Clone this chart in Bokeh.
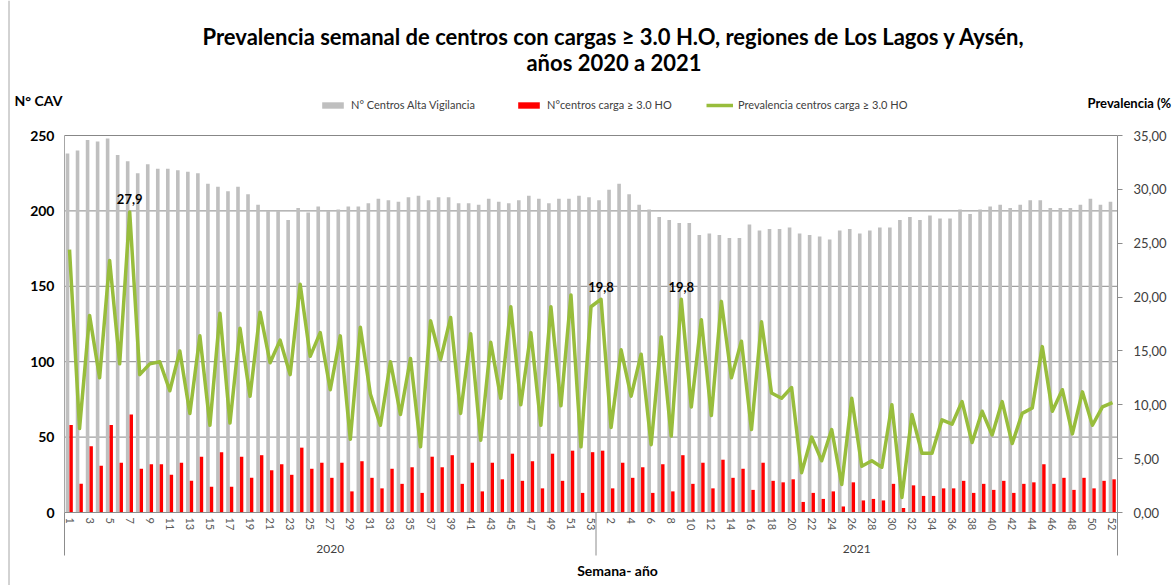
from bokeh.plotting import figure
from bokeh.models import (ColumnDataSource, LinearAxis, Range1d, FixedTicker, Label,
                          Legend, LegendItem)
from bokeh.transform import dodge
from bokeh.embed import file_html
from bokeh.resources import INLINE

# ---------------- data ----------------
years = ["2020", "2021"]
weeks_2020 = ["1", "2", "3", "4", "5", "6", "7", "8", "9", "10", "11", "12", "13", "14", "15", "16", "17", "18",
              "19", "20", "21", "22", "23", "24", "25", "26", "27", "28", "29", "30", "31", "32", "33", "34", "35",
              "36", "37", "38", "39", "40", "41", "42", "43", "44", "45", "46", "47", "48", "49", "50", "51", "52", "53"]
weeks_2021 = ["1", "2", "3", "4", "5", "6", "7", "8", "9", "10", "11", "12", "13", "14", "15", "16", "17", "18",
              "19", "20", "21", "22", "23", "24", "25", "26", "27", "28", "29", "30", "31", "32", "33", "34", "35",
              "36", "37", "38", "39", "40", "41", "42", "43", "44", "45", "46", "47", "48", "49", "50", "51", "52"]

centros_alta_vigilancia_2020 = [238, 240, 247, 246, 248, 237, 233, 225, 231, 228,
                                228, 227, 226, 225, 218, 216, 213, 216, 211, 204,
                                200, 200, 194, 202, 199, 203, 200, 201, 203, 203,
                                205, 208, 207, 206, 209, 210, 207, 209, 209, 205,
                                205, 204, 208, 206, 205, 207, 210, 208, 205, 208,
                                208, 210, 209]
centros_alta_vigilancia_2021 = [207, 214, 218, 211, 204, 201, 196, 194, 192, 192,
                                184, 185, 184, 182, 182, 191, 187, 188, 188, 189,
                                185, 184, 183, 181, 187, 188, 185, 187, 189, 189,
                                194, 196, 194, 197, 195, 195, 201, 198, 201, 203,
                                204, 202, 204, 207, 207, 202, 202, 202, 204, 208,
                                204, 206]

centros_carga_2020 = [58, 19, 44, 31, 58, 33, 65, 29, 32, 32,
                      25, 33, 21, 37, 17, 40, 17, 37, 23, 38,
                      28, 32, 25, 43, 29, 33, 23, 33, 14, 34,
                      23, 16, 29, 19, 30, 13, 37, 30, 38, 19,
                      33, 14, 33, 22, 39, 21, 34, 16, 39, 21,
                      41, 13, 40]
centros_carga_2021 = [41, 16, 33, 23, 30, 13, 32, 14, 38, 19,
                      33, 16, 35, 23, 29, 15, 33, 21, 20, 22,
                      7, 13, 9, 14, 4, 20, 8, 9, 8, 19,
                      3, 18, 11, 11, 16, 16, 21, 13, 19, 15,
                      21, 13, 19, 20, 32, 19, 23, 15, 23, 16,
                      21, 22]

prevalencia_2020 = [24.4, 7.8, 18.3, 12.5, 23.4, 13.8, 27.9, 12.8, 13.8, 14.0,
                    11.3, 15.0, 9.2, 16.4, 8.1, 18.5, 8.3, 17.1, 10.8, 18.6,
                    13.9, 16.0, 12.8, 21.2, 14.5, 16.7, 11.4, 16.4, 6.8, 17.2,
                    11.0, 8.1, 14.0, 9.1, 14.3, 6.1, 17.8, 14.2, 18.1, 9.2,
                    16.6, 6.7, 15.8, 10.6, 19.1, 10.0, 16.7, 8.1, 19.1, 9.9,
                    20.2, 6.1, 19.1]
prevalencia_2021 = [19.8, 7.9, 15.1, 10.8, 14.7, 6.3, 16.3, 7.1, 19.8, 9.8,
                    17.9, 9.0, 19.6, 12.5, 15.9, 7.7, 17.7, 11.1, 10.6, 11.6,
                    3.7, 7.0, 4.8, 7.7, 2.6, 10.6, 4.3, 4.8, 4.2, 10.0,
                    1.4, 9.1, 5.5, 5.5, 8.6, 8.2, 10.3, 6.5, 9.4, 7.2,
                    10.3, 6.4, 9.2, 9.7, 15.4, 9.4, 11.4, 7.3, 11.2, 8.1,
                    9.8, 10.2]

left_ticks = [0, 50, 100, 150, 200, 250]
right_ticks = [0, 5, 10, 15, 20, 25, 30, 35]
right_tick_labels = ["0,00", "5,00", "10,00", "15,00", "20,00", "25,00", "30,00", "35,00"]

# highlighted labels: (year, week, text)
point_labels = [("2020", "7", "27,9"), ("2021", "1", "19,8"), ("2021", "9", "19,8")]

# ---------------- build ----------------
week_labels = weeks_2020 + weeks_2021
n = len(week_labels)
n20 = len(weeks_2020)
xs = list(range(1, n + 1))
cav = centros_alta_vigilancia_2020 + centros_alta_vigilancia_2021
carga = centros_carga_2020 + centros_carga_2021
prev = prevalencia_2020 + prevalencia_2021

src = ColumnDataSource(dict(x=xs, cav=cav, carga=carga, prev=prev))

# layout: the frame covers the whole canvas; the plot area is placed inside it
W, H = 1174, 585
PX_L, PX_R, PX_T, PX_B = 64, 1117, 135, 512          # plot area in canvas pixels
LEFT_MAX, RIGHT_MAX = 250, 35
xpp = (PX_R - PX_L) / n                              # pixels per category
ypp = (PX_B - PX_T) / LEFT_MAX                       # pixels per left unit
x0 = 0.5 - PX_L / xpp
x1 = 0.5 + (W - PX_L) / xpp
y1 = PX_B / ypp
y0 = -(H - PX_B) / ypp
ratio = RIGHT_MAX / LEFT_MAX


def dx(px):   # canvas x pixel -> data x
    return 0.5 + (px - PX_L) / xpp


def dy(py):   # canvas y pixel -> left data y
    return (PX_B - py) / ypp


FONT = "Lato"
p = figure(width=W, height=H, x_range=Range1d(x0, x1), y_range=Range1d(y0, y1),
           output_backend="svg", toolbar_location=None,
           min_border=0, min_border_left=0, min_border_right=0, min_border_top=0, min_border_bottom=0)
p.title.visible = False
p.extra_y_ranges = {"prev": Range1d(y0 * ratio, y1 * ratio)}
p.outline_line_color = None
p.background_fill_color = "white"
p.border_fill_color = "white"
p.xgrid.visible = False
p.ygrid.visible = False

# outer chart border line (left)
p.segment(x0=[dx(8.5)], y0=[y0], x1=[dx(8.5)], y1=[y1], line_color="#A6A6A6", line_width=1)

# horizontal gridlines
p.segment(x0=[0.5] * len(left_ticks), y0=left_ticks, x1=[n + 0.5] * len(left_ticks), y1=left_ticks,
          line_color="#878787", line_width=1)

gray_r = p.vbar(x=dodge("x", -0.2, range=p.x_range), top="cav", width=0.36, source=src,
                fill_color="#BFBFBF", line_color=None)
red_r = p.vbar(x=dodge("x", 0.16, range=p.x_range), top="carga", width=0.34, source=src,
               fill_color="#FF0000", line_color=None)
green_r = p.line(x="x", y="prev", source=src, y_range_name="prev",
                 line_color="#98BD3C", line_width=3.5, line_join="round")

# year separators below the axis
sep_x = [0.5, n20 + 0.5, n + 0.5]
p.segment(x0=sep_x, y0=[0] * 3, x1=sep_x, y1=[dy(PX_B + 43)] * 3, line_color="#8C8C8C", line_width=1)

# left axis
la = p.yaxis[0]
la.fixed_location = 0.5
la.bounds = (0, LEFT_MAX)
la.ticker = FixedTicker(ticks=left_ticks)
la.major_tick_out = 0
la.major_tick_in = 0
la.minor_tick_out = 0
la.minor_tick_in = 0
la.axis_line_color = "#A6A6A6"
la.major_label_text_font = FONT
la.major_label_text_font_style = "bold"
la.major_label_text_font_size = "14px"
la.major_label_text_color = "#000000"
la.major_label_standoff = 10

# right axis
ra = LinearAxis(y_range_name="prev", ticker=FixedTicker(ticks=right_ticks))
ra.fixed_location = n + 0.5
ra.bounds = (0, RIGHT_MAX)
ra.major_label_overrides = {t: l for t, l in zip(right_ticks, right_tick_labels)}
ra.major_tick_out = 5
ra.major_tick_in = 0
ra.minor_tick_out = 0
ra.minor_tick_in = 0
ra.axis_line_color = "#8C8C8C"
ra.major_tick_line_color = "#8C8C8C"
ra.major_label_text_font = FONT
ra.major_label_text_font_size = "13px"
ra.major_label_text_color = "#404040"
ra.major_label_standoff = 11
p.add_layout(ra, "right")

# bottom axis
xa = p.xaxis[0]
xa.fixed_location = 0
xa.bounds = (0.5, n + 0.5)
xa.ticker = FixedTicker(ticks=xs[::2])
xa.major_label_overrides = {x: week_labels[x - 1] for x in xs[::2]}
xa.major_label_orientation = "vertical"
xa.major_tick_out = 0
xa.major_tick_in = 0
xa.minor_tick_out = 0
xa.minor_tick_in = 0
xa.axis_line_color = "#8C8C8C"
xa.major_label_text_font = FONT
xa.major_label_text_font_size = "11px"
xa.major_label_text_color = "#595959"
xa.major_label_standoff = 5


# legend (three separate single-item legends to match positions)
def add_leg(label, rend, vx):
    leg = Legend(items=[LegendItem(label=label, renderers=[rend])], location=(vx, H - 111),
                 orientation="horizontal", glyph_width=27, glyph_height=8, label_height=10,
                 label_standoff=5, padding=0, margin=0, border_line_color=None,
                 background_fill_alpha=0, label_text_font=FONT, label_text_font_size="11px",
                 label_text_color="#404040")
    p.add_layout(leg, "center")


add_leg("N° Centros Alta Vigilancia", gray_r, 319)
add_leg("N°centros carga ≥ 3.0 HO", red_r, 515)
add_leg("Prevalencia centros carga ≥ 3.0 HO", green_r, 706)


def lab(x, y, text, size, bold=True, align="center", color="#000000"):
    p.add_layout(Label(x=x, y=y, text=text, text_font=FONT, text_font_size=size,
                       text_font_style="bold" if bold else "normal", text_align=align,
                       text_baseline="middle", text_color=color))


lab(dx(613.5), dy(36), "Prevalencia semanal de centros con cargas ≥ 3.0 H.O, regiones de Los Lagos y Aysén,", "22px")
lab(dx(613.5), dy(62), "años 2020 a 2021", "22px")
lab(dx(14), dy(100), "N° CAV", "14px", align="left")
lab(dx(1087), dy(102), "Prevalencia (%", "13px", align="left")
lab(dx(617), dy(570), "Semana- año", "14px")
lab((0.5 + n20 + 0.5) / 2, dy(548), years[0], "12px", bold=False, color="#404040")
lab((n20 + 0.5 + n + 0.5) / 2, dy(548), years[1], "12px", bold=False, color="#404040")

for yr, wk, txt in point_labels:
    idx = (weeks_2020.index(wk) if yr == years[0] else n20 + weeks_2021.index(wk))
    p.add_layout(Label(x=xs[idx], y=prev[idx] + 0.7, y_range_name="prev", text=txt,
                       text_font=FONT, text_font_size="13px", text_font_style="bold",
                       text_align="center", text_baseline="bottom", text_color="#000000"))

open("out.html", "w").write(file_html(p, INLINE))
